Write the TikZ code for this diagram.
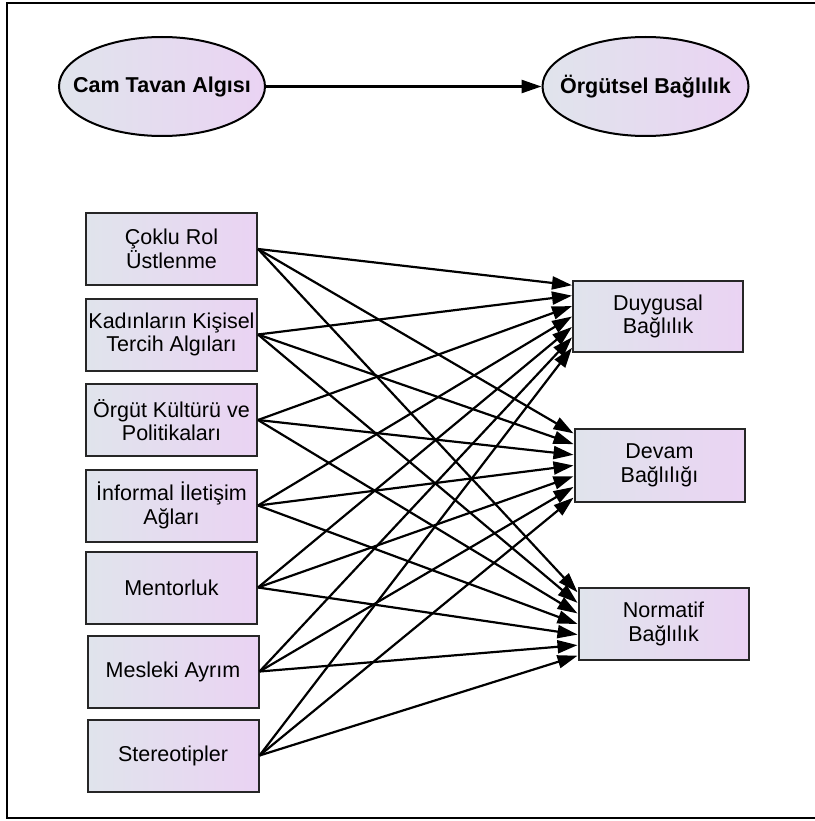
\documentclass[tikz,border=0pt]{standalone}
\usepackage{fontspec}
\setmainfont{Liberation Sans}
\usetikzlibrary{arrows.meta,calc,shapes.geometric}
\definecolor{gl}{RGB}{224,228,236}
\definecolor{gr}{RGB}{234,211,243}
\begin{document}
\begin{tikzpicture}[x=1pt,y=-1pt,
  box/.style={draw=black!85, line width=2pt, left color=gl, right color=gr,
    minimum width=171pt, minimum height=72pt, inner sep=0pt, align=center,
    font=\fontsize{21.5}{23.5}\selectfont},
  oval/.style={ellipse, draw=black, line width=2pt, left color=gl, right color=gr,
    minimum width=206pt, minimum height=99pt, inner sep=0pt,
    font=\bfseries\fontsize{21.5}{23}\selectfont},
  link/.style={line width=2.2pt, -{Triangle[length=20pt,width=13pt]}}]
\useasboundingbox (0,0) rectangle (814,821);
\draw[line width=2.4pt] (816,3) -- (7,3) -- (7,818) -- (816,818);

\node[oval] (cam) at (162,86.5) {\makebox[0pt]{Cam Tavan Algısı}};
\node[oval] (org) at (645.5,86.5) {\makebox[0pt]{Örgütsel Bağlılık}};
\draw[link, line width=2.6pt] (cam) -- (org);

\node[box] (s1) at (171.5,249) {Çoklu Rol\\Üstlenme};
\node[box] (s2) at (171.5,334.5) {Kadınların Kişisel\\Tercih Algıları};
\node[box] (s3) at (171.5,420) {Örgüt Kültürü ve\\Politikaları};
\node[box] (s4) at (171.5,505.5) {İnformal İletişim\\Ağları};
\node[box] (s5) at (171.5,587.5) {Mentorluk};
\node[box] (s6) at (173,671.5) {Mesleki Ayrım};
\node[box] (s7) at (173,755.5) {Stereotipler};

\node[box, minimum width=170pt, minimum height=71pt] (d) at (658,316.5) {Duygusal\\Bağlılık};
\node[box, minimum width=170pt, minimum height=73pt] (c) at (659.5,465.5) {Devam\\Bağlılığı};
\node[box, minimum width=170pt, minimum height=72pt] (n) at (663.5,624) {Normatif\\Bağlılık};

\foreach \s [count=\i from 0] in {s1,s2,s3,s4,s5,s6,s7}
  \foreach \t in {d,c,n}
    \draw[link] (\s.east) -- ($(\t.north west)!{(\i+0.5)/7}!(\t.south west)$);
\end{tikzpicture}
\end{document}
